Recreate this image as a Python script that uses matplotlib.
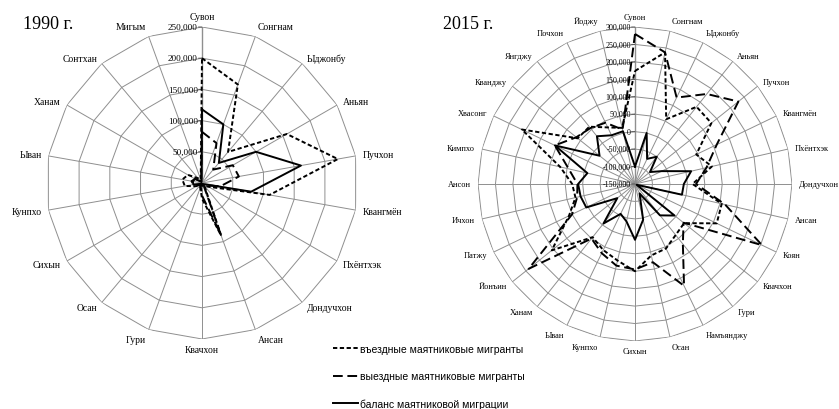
import numpy as np
import matplotlib
matplotlib.use("Agg")
import matplotlib.pyplot as plt

# ---------------- data (thousands of people) ----------------
cats_1990 = ["Сувон", "Сонгнам", "Ыджонбу", "Аньян", "Пучхон", "Квангмён",
             "Пхёнтхэк", "Дондучхон", "Ансан", "Квачхон", "Гури", "Осан",
             "Сихын", "Кунпхо", "Ыван", "Ханам", "Сонтхан", "Мигым"]
in_1990 = [200, 168, 65, 157, 221, 110, 12, 6, 90, 25, 8, 6, 10, 28, 32, 26, 10, 6]
out_1990 = [82, 68, 28, 57, 60, 30, 8, 4, 88, 20, 6, 5, 7, 14, 17, 13, 7, 4]
bal_1990 = [118, 100, 42, 100, 161, 80, 4, 2, 2, 5, 2, 1, 3, 14, 15, 13, 3, 2]

cats_2015 = ["Сувон", "Сонгнам", "Ыджонбу", "Аньян", "Пучхон", "Квангмён",
             "Пхёнтхэк", "Дондучхон", "Ансан", "Коян", "Квачхон", "Гури",
             "Намъянджу", "Осан", "Сихын", "Кунпхо", "Ыван", "Ханам", "Йонъин",
             "Патжу", "Ичхон", "Ансон", "Кимпхо", "Хвасонг", "Кванджу",
             "Янгджу", "Почхон", "Йоджу"]
in_2015 = [174, 237, 56, 133, 130, 45, 76, 15, 105, 110, 30, 37, 55, 60,
           100, 75, 60, 45, 155, 60, 25, 30, 70, 210, 60, 60, 30, 15]
out_2015 = [280, 237, 125, 180, 229, 110, 60, 25, 115, 254, 28, 70, 174, 80,
            95, 90, 70, 50, 240, 50, 20, 15, 45, 105, 65, 55, 45, 10]
bal_2015 = [-100, 0, -70, -50, -95, -65, 15, -10, -12, -145, -5, -35, -120, -45,
            10, -40, -55, -5, -85, 5, 10, 13, -10, 105, -20, 25, 5, 5]

legend_labels = ["въездные маятниковые мигранты",
                 "выездные маятниковые мигранты",
                 "баланс маятниковой миграции"]

SERIF = "Liberation Serif"
SANS = "Liberation Sans"
GRID = "#8f8f8f"

W, H = 839, 410
fig = plt.figure(figsize=(W / 100, H / 100), dpi=100)


def radar(center, radius, cats, series, rmin, rmax, step, show_min_tick,
          cat_size, tick_size):
    cx, cy = center
    rect = [(cx - radius) / W, 1 - (cy + radius) / H, 2 * radius / W, 2 * radius / H]
    ax = fig.add_axes(rect, projection="polar")
    ax.set_theta_offset(np.pi / 2)
    ax.set_theta_direction(-1)
    ax.set_ylim(rmin, rmax)
    ax.axis("off")
    n = len(cats)
    theta = np.arange(n) * 2 * np.pi / n
    th_c = np.append(theta, theta[0])
    rings = np.arange(rmin + step, rmax + step / 2, step)
    for r in rings:
        ax.plot(th_c, np.full(n + 1, r), color=GRID, lw=0.7, zorder=1)
    for t in theta:
        ax.plot([t, t], [rmin, rmax], color=GRID, lw=0.7 if t else 1.0, zorder=1)
    # value axis labels with small tick marks
    ticks = np.arange(rmin if show_min_tick else rmin + step, rmax + step / 2, step)
    for v in ticks:
        ax.annotate("", xy=(0, v), xytext=(-2.5, 0), textcoords="offset points",
                    arrowprops=dict(arrowstyle="-", lw=0.7, color="#555555",
                                    shrinkA=0, shrinkB=0),
                    annotation_clip=False)
        ax.annotate(f"{int(v):,}", xy=(0, v), xytext=(-3.0, 0),
                    textcoords="offset points", ha="right", va="center",
                    fontsize=tick_size, family=SERIF, annotation_clip=False, zorder=2)
    # category labels
    for t, name in zip(theta, cats):
        s, c = np.sin(t), np.cos(t)
        ha = "left" if s > 0.15 else ("right" if s < -0.15 else "center")
        va = "bottom" if c > 0.9 else ("top" if c < -0.9 else "center")
        ax.annotate(name, xy=(t, rmax), xytext=(5.0 * s, 4.5 * c),
                    textcoords="offset points", ha=ha, va=va,
                    fontsize=cat_size, family=SERIF, annotation_clip=False)
    styles = [dict(dashes=(2.2, 1.3)), dict(dashes=(5.0, 2.4)), dict()]
    handles = []
    for vals, st in zip(series, styles):
        v = np.asarray(vals, dtype=float) * 1000
        v = np.append(v, v[0])
        (ln,) = ax.plot(th_c, v, color="black", lw=1.4, zorder=3, **st)
        handles.append(ln)
    return ax, handles


radar((202, 184), 156, cats_1990, [in_1990, out_1990, bal_1990],
      0, 250000, 50000, False, 6.9, 6.6)
_, handles = radar((635, 185), 157, cats_2015, [in_2015, out_2015, bal_2015],
                   -150000, 300000, 50000, True, 6.0, 5.8)

fig.text(23 / W, 1 - 29 / H, "1990 г.", fontsize=13, family=SERIF, va="baseline")
fig.text(443 / W, 1 - 29 / H, "2015 г.", fontsize=13, family=SERIF, va="baseline")

fig.legend(handles, legend_labels, loc="upper left",
           bbox_to_anchor=(333 / W, 1 - 345 / H), frameon=False,
           prop={"family": SANS, "size": 7.5}, handlelength=2.4,
           handletextpad=0.2, labelspacing=1.65, borderaxespad=0, borderpad=0)

fig.savefig("out.png", dpi=100, facecolor="white")
